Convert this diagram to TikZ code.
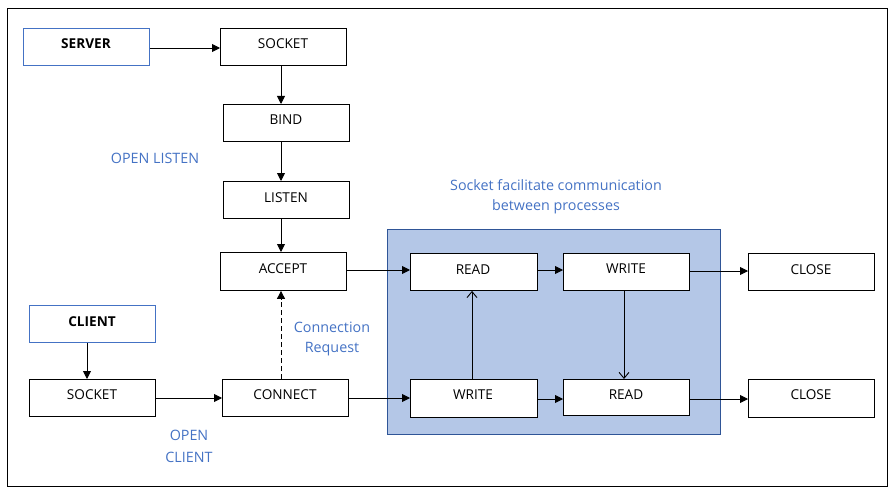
\documentclass[tikz,border=0pt]{standalone}
\usepackage{fontspec}
\setmainfont{Open Sans}
\usetikzlibrary{arrows.meta}
\definecolor{lblue}{HTML}{4472C4}
\definecolor{regfill}{HTML}{B4C7E7}
\definecolor{regdraw}{HTML}{2F5597}
\begin{document}
\begin{tikzpicture}[x=1pt,y=-1pt,
  font=\fontsize{13.6}{16}\selectfont,
  box/.style={draw=black,line width=0.9pt,fill=white,inner sep=0pt},
  hbox/.style={draw=lblue,line width=0.9pt,fill=white,inner sep=0pt},
  txt/.style={inner sep=0pt},
  btxt/.style={inner sep=0pt,font=\fontsize{13.6}{16}\selectfont\bfseries},
  lbl/.style={text=lblue,align=center,inner sep=0pt,font=\fontsize{14.3}{17}\selectfont},
  arr/.style={line width=0.9pt,-{Triangle[length=8pt,width=8pt]}},
  oarr/.style={line width=0.9pt,-{Straight Barb[length=6pt,width=10pt,line width=0.9pt]}}
]
\useasboundingbox (0,0) rectangle (894,492);
\draw[line width=0.9pt] (7,8) rectangle (887,486);
% communication region
\draw[fill=regfill,draw=regdraw,line width=0.9pt] (387,229) rectangle (720,434);
% helper macro for boxes by corners
\newcommand{\mybox}[6]{\node[#1,minimum width=#4-#2,minimum height=#5-#3,anchor=north west] (#6) at (#2,#3) {};}
\mybox{hbox}{23}{28}{149}{65}{server}
\node[btxt] (tserver) at (86,44) {SERVER};
\mybox{box}{220}{28}{346}{65}{sock1}
\node[txt] (tsock1) at (283,44) {SOCKET};
\mybox{box}{223}{104}{349}{141}{bind}
\node[txt] (tbind) at (286,120) {BIND};
\mybox{box}{223}{181}{349}{218}{listen}
\node[txt] (tlisten) at (286,198) {LISTEN};
\mybox{box}{220}{252}{346}{290}{accept}
\node[txt] (taccept) at (283,269) {ACCEPT};
\mybox{hbox}{29}{305}{155}{342}{client}
\node[btxt] (tclient) at (92,322) {CLIENT};
\mybox{box}{29}{379}{155}{416}{sock2}
\node[txt] (tsock2) at (92,395) {SOCKET};
\mybox{box}{222}{379}{348}{416}{connect}
\node[txt] (tconnect) at (285,395) {CONNECT};
\mybox{box}{410}{253}{537}{290}{read1}
\node[txt] (tread1) at (473,270) {READ};
\mybox{box}{563}{253}{689}{290}{write1}
\node[txt] (twrite1) at (626,269) {WRITE};
\mybox{box}{748}{253}{874}{290}{close1}
\node[txt] (tclose1) at (811,270) {CLOSE};
\mybox{box}{410}{379}{537}{417}{write2}
\node[txt] (twrite2) at (473,395) {WRITE};
\mybox{box}{563}{379}{689}{415}{read2}
\node[txt] (tread2) at (626,395) {READ};
\mybox{box}{748}{379}{874}{417}{close2}
\node[txt] (tclose2) at (811,395) {CLOSE};
% labels
\node[lbl] (ol) at (155,158) {OPEN LISTEN};
\node[lbl] (cr1) at (332,327) {Connection};
\node[lbl] (cr2) at (332,349) {Request};
\node[lbl] (oc1) at (189,435) {OPEN};
\node[lbl] (oc2) at (189,457) {CLIENT};
\node[lbl] (sf1) at (556,185) {Socket facilitate communication};
\node[lbl] (sf2) at (556,207) {between processes};
% arrows
\draw[arr] (server.east |- 0,48) -- (sock1.west |- 0,48);
\draw[arr] (sock1.south -| 281,0) -- (bind.north -| 281,0);
\draw[arr] (bind.south -| 281,0) -- (listen.north -| 281,0);
\draw[arr] (listen.south -| 281,0) -- (accept.north -| 281,0);
\draw[arr,dashed,dash pattern=on 5pt off 3pt] (connect.north -| 281,0) -- (accept.south -| 281,0);
\draw[arr] (client.south -| 87,0) -- (sock2.north -| 87,0);
\draw[arr] (sock2.east |- 0,398) -- (connect.west |- 0,398);
\draw[arr] (connect.east |- 0,398) -- (write2.west |- 0,398);
\draw[arr] (accept.east |- 0,270) -- (read1.west |- 0,270);
\draw[arr] (read1.east |- 0,270) -- (write1.west |- 0,270);
\draw[arr] (write1.east |- 0,271) -- (close1.west |- 0,271);
\draw[arr] (write2.east |- 0,399) -- (read2.west |- 0,399);
\draw[arr] (read2.east |- 0,399) -- (close2.west |- 0,399);
\draw[oarr] (write2.north -| 472,0) -- (read1.south -| 472,0);
\draw[oarr] (write1.south -| 624,0) -- (read2.north -| 624,0);
\end{tikzpicture}
\end{document}
